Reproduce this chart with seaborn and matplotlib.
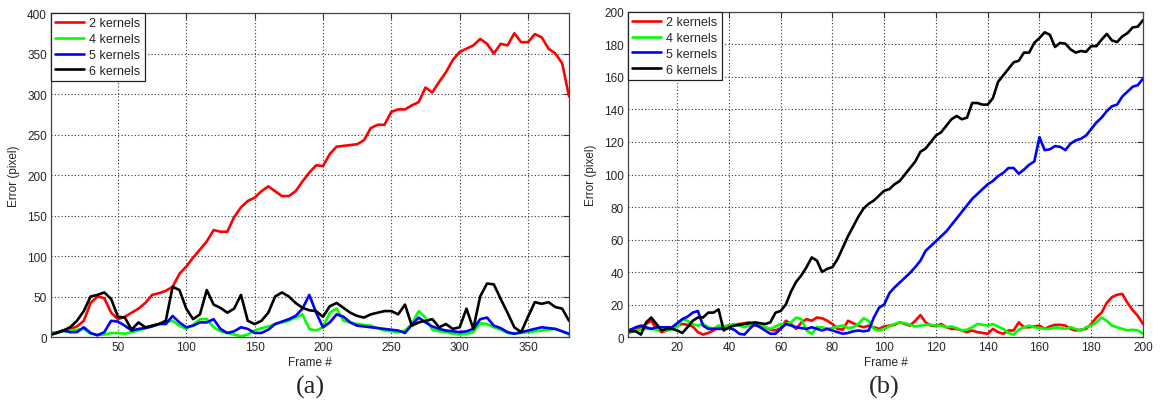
import numpy as np
import pandas as pd
import matplotlib
matplotlib.use("Agg")
import matplotlib.pyplot as plt
import seaborn as sns

labels = ["2 kernels", "4 kernels", "5 kernels", "6 kernels"]
colors = ["#ff0000", "#00ff00", "#0000ff", "#000000"]

# panel (a): one sample every 5 frames
frames_a = [1] + list(range(5, 381, 5))
red_a = [5, 5, 8, 10, 13, 20, 42, 50, 48, 30, 22, 25, 30, 35, 42, 52, 54, 57, 62, 78,
         87, 98, 108, 118, 132, 130, 130, 148, 160, 168, 172, 180, 186, 180, 174, 174, 180, 192, 203, 212,
         211, 226, 235, 236, 237, 238, 243, 258, 262, 262, 278, 281, 281, 286, 290, 308, 302, 315, 327, 342,
         352, 356, 360, 368, 362, 350, 362, 360, 375, 364, 364, 374, 370, 356, 350, 338, 297]
green_a = [5, 6, 7, 8, 9, 10, 4, 3, 3, 5, 5, 4, 6, 8, 11, 14, 16, 18, 20, 14,
           10, 15, 22, 22, 12, 7, 5, 3, 1, 3, 8, 11, 13, 16, 18, 20, 24, 28, 10, 8,
           12, 30, 35, 20, 18, 16, 15, 14, 11, 8, 7, 6, 8, 16, 32, 24, 9, 7, 6, 4,
           3, 4, 6, 17, 16, 12, 9, 5, 4, 5, 6, 7, 8, 9, 10, 7, 3]
blue_a = [3, 5, 8, 6, 6, 12, 5, 2, 6, 20, 19, 14, 8, 10, 11, 13, 16, 16, 26, 18,
          12, 14, 18, 18, 22, 10, 5, 7, 12, 10, 5, 5, 9, 16, 19, 22, 26, 35, 52, 30,
          12, 18, 28, 25, 18, 14, 13, 12, 11, 10, 9, 8, 5, 15, 24, 18, 13, 10, 8, 7,
          6, 7, 10, 22, 24, 14, 11, 6, 4, 6, 8, 10, 12, 11, 10, 7, 4]
black_a = [3, 5, 8, 12, 20, 32, 50, 52, 55, 47, 25, 24, 9, 18, 12, 14, 16, 20, 62, 58,
           35, 22, 28, 58, 40, 36, 30, 35, 52, 20, 16, 20, 30, 50, 55, 50, 42, 36, 33, 32,
           25, 38, 42, 36, 30, 26, 24, 28, 30, 32, 32, 28, 40, 14, 18, 20, 22, 12, 16, 10,
           12, 35, 10, 50, 66, 65, 47, 30, 12, 6, 25, 43, 41, 43, 37, 35, 20]

# panel (b): one sample every 2 frames
frames_b = [1] + list(range(2, 201, 2))
red_b = [4,
         4.5, 5, 6, 8, 10, 5, 3, 4, 6, 7,
         8, 7.5, 6.5, 3, 1.5, 2.5, 4, 6, 6.5, 7,
         7.5, 8, 8.5, 9, 7, 6.5, 6, 4.5, 4, 5.5,
         10, 8, 5, 9, 11, 10, 12, 11.5, 10, 8,
         5, 4.5, 10, 8.5, 7, 6, 7, 6, 5, 6.5,
         7, 7.5, 9, 8, 7, 10, 13.5, 9, 7, 6.7,
         8, 6, 5, 5, 4, 3, 4, 3, 2.5, 2,
         5, 3, 2, 4, 4, 9, 6, 6, 6.5, 7,
         5, 6.5, 7.5, 7.5, 7, 5, 4, 4.5, 5, 8,
         12, 15, 21, 24.5, 26, 26.5, 21, 16.5, 13, 8]
green_b = [2,
           3, 4, 4.5, 5, 5, 4.5, 4, 4, 5, 6,
           11, 10, 8, 7, 8, 6, 5, 7, 6.5, 7,
           8, 7, 6, 7, 7.5, 8, 6, 5, 6.5, 8,
           8, 9, 12, 11, 4, 2, 6, 6, 5, 5.5,
           6.5, 7, 5.5, 6, 8, 11.5, 10, 5, 4, 5,
           6.5, 8, 9, 8.5, 7.5, 6.5, 7, 7.5, 7.5, 7,
           7, 6, 6.5, 5.5, 4, 4.5, 6, 8, 7.5, 7,
           8, 6.5, 5, 2.5, 1.5, 4.5, 6, 7, 6, 5.5,
           5, 5, 6, 5.5, 5, 6, 5, 4, 6, 7,
           9, 12, 10, 7, 6, 5, 4, 4.5, 4, 2]
blue_b = [4,
          4.5, 6, 7, 6, 5, 6, 6, 6, 6, 8.5,
          11, 12.5, 15, 16, 7, 5, 5, 5, 5, 5.5,
          4.5, 2, 1.5, 5, 8, 6, 4, 2, 2, 5,
          8, 7, 6, 5.5, 5, 6, 5, 4, 5, 4,
          3, 2, 2.5, 3.5, 4, 3.5, 4, 12, 18, 20,
          27, 30.5, 33.5, 36.5, 39.5, 43, 47, 53, 56, 59,
          62, 65, 69, 73, 77, 81, 85, 88, 91, 94,
          96, 99, 101, 104, 104, 100.5, 103, 106, 108, 123,
          115, 115.5, 117.5, 117, 115, 119, 121, 122, 124, 128,
          132, 135, 139, 142, 143, 148, 151, 154, 155, 159]
black_b = [3.5,
           3.5, 3.5, 1.5, 9, 12, 8, 4, 5, 5, 4,
           2.5, 6, 10, 12, 12, 15, 15, 17, 4, 6,
           7, 7.5, 8, 8.5, 9, 8.5, 8, 9, 15, 16,
           20, 28, 34, 38, 43, 49, 47, 40, 42, 43,
           48, 55, 62, 68, 74, 79, 82, 84, 87, 90,
           91, 94, 96, 100, 104, 108, 114, 116, 120, 124,
           126, 130, 134, 136, 134, 135, 144, 144, 143, 143,
           147, 157, 161, 165, 169, 170, 175, 175, 181, 184,
           187.5, 186, 178.5, 181, 180.5, 177, 175, 176, 175.5, 179,
           179, 183, 186.5, 182.5, 181.5, 185, 187, 190.5, 191, 195]

sns.set_style("white")
plt.rcParams["font.family"] = ["Liberation Sans", "DejaVu Sans"]


def long_form(frames, series):
    parts = []
    for name, vals in zip(labels, series):
        parts.append(pd.DataFrame({"frame": frames, "error": vals, "kernels": name}))
    return pd.concat(parts, ignore_index=True)


def draw(ax, frames, series, xlim, ylim, xticks, yticks):
    df = long_form(frames, series)
    sns.lineplot(data=df, x="frame", y="error", hue="kernels", hue_order=labels,
                 palette=dict(zip(labels, colors)), linewidth=1.9,
                 estimator=None, sort=False, ax=ax)
    ax.set_xlim(*xlim)
    ax.set_ylim(*ylim)
    ax.set_xticks(xticks)
    ax.set_yticks(yticks)
    ax.grid(True, linestyle=(0, (1, 2)), color="#333333", linewidth=0.8)
    ax.tick_params(direction="in", top=True, right=True, length=4, width=0.8,
                   labelsize=8.5, pad=3, color="#333333")
    for s in ax.spines.values():
        s.set_color("#444444")
        s.set_linewidth(0.9)
    ax.set_xlabel("Frame #", fontsize=8.5, labelpad=2)
    ax.set_ylabel("Error (pixel)", fontsize=8.5, labelpad=5)
    leg = ax.legend(loc="upper left", borderaxespad=0, fancybox=False,
                    edgecolor="#222222", framealpha=1, fontsize=9,
                    handlelength=2.3, handletextpad=0.4, labelspacing=0.3,
                    borderpad=0.35)
    leg.get_frame().set_linewidth(0.9)


fig = plt.figure(figsize=(11.61, 4.10), dpi=100)
ax1 = fig.add_axes([0.0439, 0.1756, 0.4462, 0.7902])
ax2 = fig.add_axes([0.5409, 0.1756, 0.4436, 0.7927])

draw(ax1, frames_a, [red_a, green_a, blue_a, black_a], (1, 380), (0, 400),
     range(50, 351, 50), range(0, 401, 50))
draw(ax2, frames_b, [red_b, green_b, blue_b, black_b], (1, 200), (0, 200),
     range(20, 201, 20), range(0, 201, 20))

fig.text(0.267, 0.054, "(a)", ha="center", va="center", fontsize=19,
         family=["Liberation Serif", "DejaVu Serif"])
fig.text(0.762, 0.054, "(b)", ha="center", va="center", fontsize=19,
         family=["Liberation Serif", "DejaVu Serif"])

fig.savefig("out.png", dpi=100)
